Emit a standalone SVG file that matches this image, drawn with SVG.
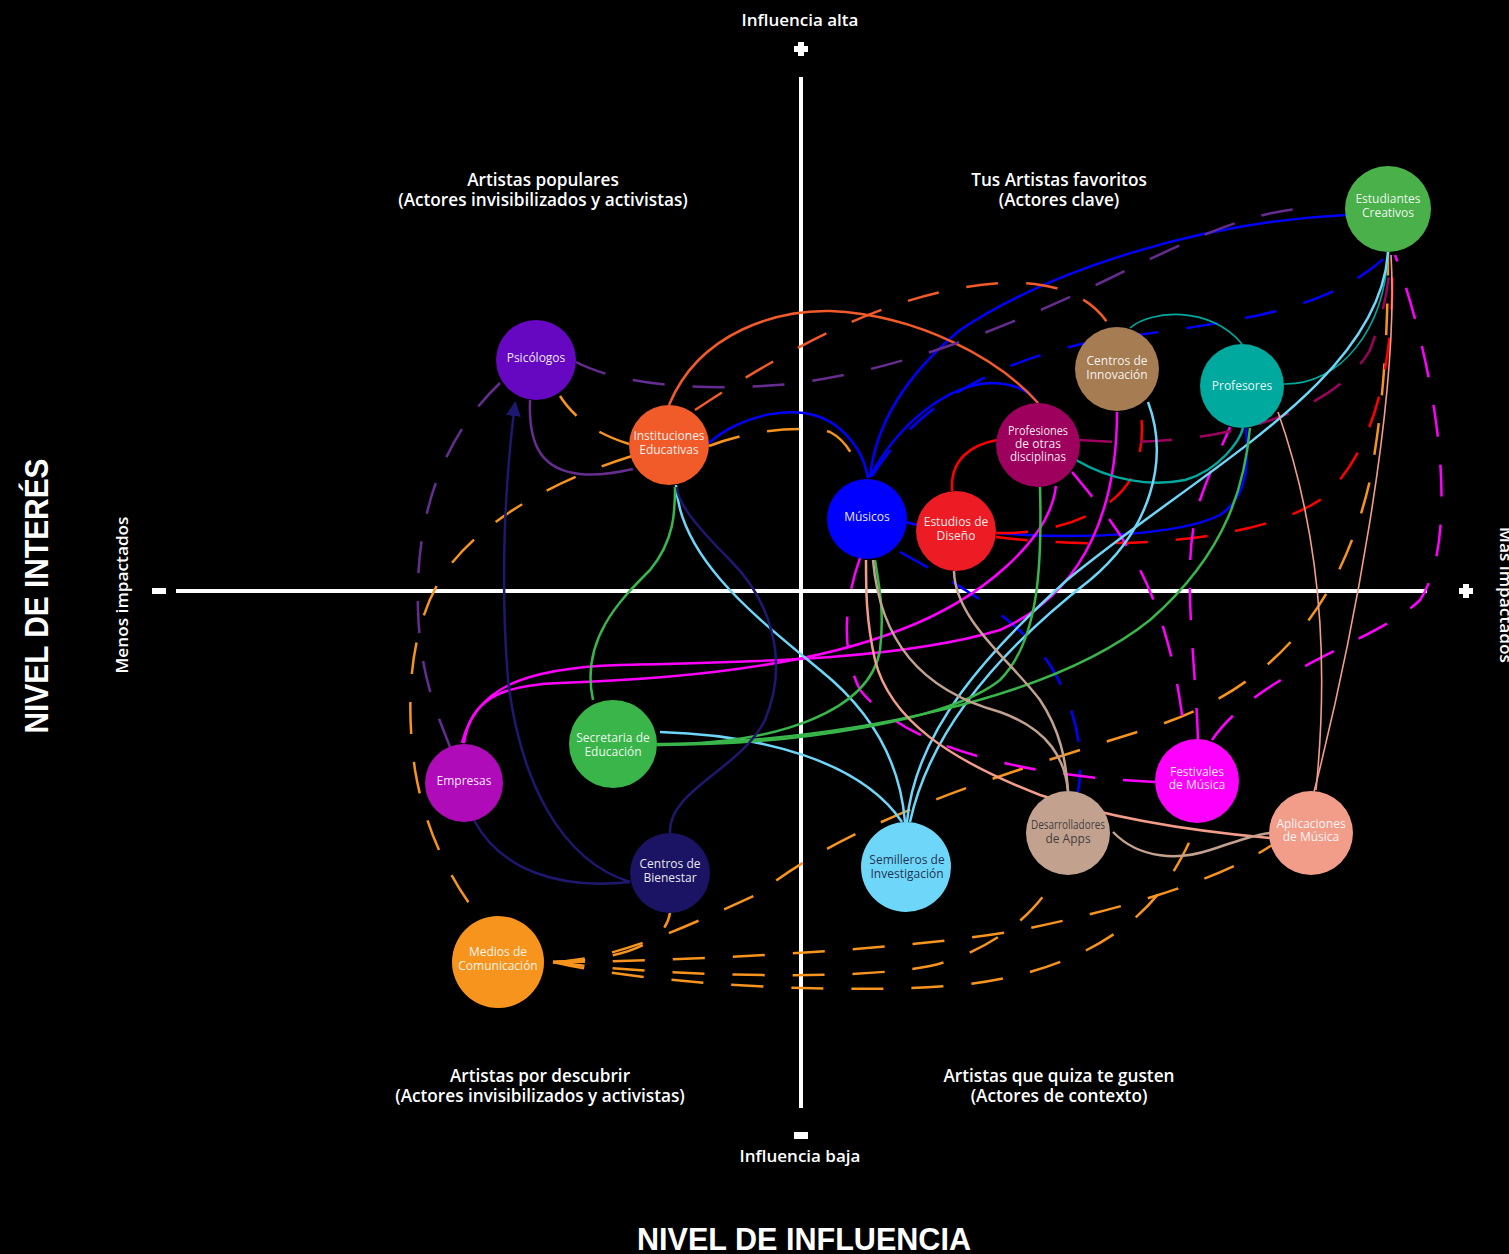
<svg xmlns="http://www.w3.org/2000/svg" width="1509" height="1254" viewBox="0 0 1509 1254">
<style>
.bg{fill:#000}
.ax{stroke:#fff;stroke-width:4;fill:none}
.mk{fill:#fff}
.h{font-family:"Open Sans","Noto Sans",sans-serif;font-weight:600;fill:#fff;text-anchor:middle}
.big{font-family:"Liberation Sans","Open Sans",sans-serif;font-weight:700;fill:#fff;text-anchor:middle}
.nl{font-family:"Open Sans","Noto Sans",sans-serif;font-size:12px;fill:#fff;fill-opacity:0.92;text-anchor:middle}
.c{fill:none;stroke-width:2.5}
.d{stroke-dasharray:32 28}
.thin{stroke-width:1.6}
.blue{stroke:#0000FF}
.oR{stroke:#F15A29}
.pur{stroke:#662D91}
.org{stroke:#F7941D}
.red{stroke:#FF0000}
.mag{stroke:#FF00FF}
.dmag{stroke:#9E005D}
.teal{stroke:#00A99D}
.lb{stroke:#6DD6F9}
.grn{stroke:#39B54A}
.navy{stroke:#1F1870}
.sal{stroke:#F29C8A}
.tan{stroke:#C2A18F}
</style>
<defs>
<marker id="arr" viewBox="0 0 10 10" refX="8" refY="5" markerWidth="6" markerHeight="6" orient="auto" markerUnits="strokeWidth">
<path d="M0,0 L10,5 L0,10 z" fill="#1F1870"/>
</marker>
</defs>
<rect class="bg" x="0" y="0" width="1509" height="1254"/>

<g id="axes">
<line class="ax" x1="801" y1="77" x2="801" y2="1108"/>
<line class="ax" x1="176" y1="591" x2="1427" y2="591"/>
<path class="mk" d="M798,42 h6 v4 h4 v6 h-4 v4 h-6 v-4 h-4 v-6 h4 z"/>
<path class="mk" d="M1463,584 h6 v4 h4 v6 h-4 v4 h-6 v-4 h-4 v-6 h4 z"/>
<rect class="mk" x="152" y="588" width="14" height="6"/>
<rect class="mk" x="794" y="1132" width="14" height="7"/>
</g>

<g id="labels">
<text class="h" x="800" y="26" font-size="17">Influencia alta</text>
<text class="h" x="800" y="1162" font-size="17">Influencia baja</text>
<text class="big" x="804" y="1250" font-size="32" textLength="334" lengthAdjust="spacingAndGlyphs">NIVEL DE INFLUENCIA</text>
<text class="big" transform="translate(48,596) rotate(-90)" font-size="34" textLength="275" lengthAdjust="spacingAndGlyphs">NIVEL DE INTERÉS</text>
<text class="h" transform="translate(128,595) rotate(-90)" font-size="16" font-weight="500" textLength="157" lengthAdjust="spacingAndGlyphs">Menos impactados</text>
<text class="h" transform="translate(1500,595) rotate(90)" font-size="16" font-weight="500" textLength="136" lengthAdjust="spacingAndGlyphs">Más impactados</text>
<text class="h" x="543" y="186" font-size="17.2">Artistas populares</text>
<text class="h" x="543" y="206" font-size="17.2">(Actores invisibilizados y activistas)</text>
<text class="h" x="1059" y="186" font-size="17.2">Tus Artistas favoritos</text>
<text class="h" x="1059" y="206" font-size="17.2">(Actores clave)</text>
<text class="h" x="540" y="1082" font-size="17.2">Artistas por descubrir</text>
<text class="h" x="540" y="1102" font-size="17.2">(Actores invisibilizados y activistas)</text>
<text class="h" x="1059" y="1082" font-size="17.2">Artistas que quiza te gusten</text>
<text class="h" x="1059" y="1102" font-size="17.2">(Actores de contexto)</text>
</g>

<g id="connectors">
<!-- blue -->
<path class="c blue" d="M1346,215 C1200,222 1050,270 960,330 C900,380 875,430 870,477"/>
<path class="c blue" d="M870,477 C900,420 950,385 990,383 C1015,383 1030,392 1038,403"/>
<path class="c blue" d="M709,443 C740,415 800,400 835,425 C855,440 865,460 868,478"/>
<path class="c blue d" d="M872,476 C920,400 1000,360 1100,340 C1250,320 1330,310 1390,253"/>
<path class="c blue" d="M997,533 C1080,540 1180,535 1220,515 C1250,495 1248,460 1246,428"/>
<path class="c blue d" d="M900,552 C960,585 1020,620 1050,665 C1075,705 1085,750 1078,792"/>
<path class="c blue" d="M906,522 L917,525"/>
<!-- orange-red -->
<path class="c oR" d="M669,405 C700,330 780,310 830,311 C920,315 1000,360 1038,403"/>
<path class="c oR d" d="M695,410 C800,340 900,290 1000,283 C1060,280 1095,300 1110,327"/>
<!-- purple -->
<path class="c pur d" d="M576,362 C620,385 700,392 790,384 C900,370 1000,330 1100,283 C1200,235 1250,210 1320,207"/>
<path class="c pur" d="M530,400 C528,450 545,470 580,474 C600,476 620,472 633,469"/>
<path class="c pur d" d="M500,383 C440,440 415,520 418,610 C420,680 440,720 450,747"/>
<!-- orange -->
<path class="c org d" d="M629,444 C600,435 575,420 560,396"/>
<path class="c org d" d="M632,456 C540,485 470,530 440,580 C410,630 405,700 415,770 C425,830 450,880 480,918"/>
<path class="c org d" d="M709,446 C750,430 800,425 830,432 C845,440 855,455 860,478"/>
<path class="c org d" d="M553,962 C620,960 665,945 670,913"/>
<path class="c org d" d="M553,962 C620,960 700,920 760,893 C850,820 1000,775 1150,728 C1270,690 1340,610 1370,480 C1385,400 1388,320 1388,252"/>
<path class="c org d" d="M553,962 C650,962 900,952 1020,930 C1120,910 1220,880 1272,845"/>
<path class="c org d" d="M553,962 C650,975 850,982 930,966 C980,955 1035,920 1056,875"/>
<path class="c org d" d="M553,962 C650,985 850,995 960,985 C1060,975 1130,935 1165,885 C1180,862 1192,840 1196,823"/>
<!-- red -->
<path class="c red d" d="M996,537 C1100,550 1250,545 1320,500 C1380,450 1395,350 1392,255"/>
<path class="c red d" d="M996,533 C1060,535 1120,510 1135,470 C1145,440 1142,420 1140,410"/>
<path class="c red" d="M952,491 C950,460 970,445 997,440"/>
<!-- magenta -->
<path class="c mag" d="M464,743 C470,700 500,685 560,683 C650,680 800,670 900,630 C980,600 1050,540 1056,486"/>
<path class="c mag" d="M462,743 C475,690 520,668 620,665 C750,662 900,660 1000,630 C1090,590 1117,500 1117,412"/>
<path class="c mag d" d="M1155,782 C1000,775 900,740 860,690 C840,650 845,600 860,558"/>
<path class="c mag d" d="M1072,472 C1120,530 1170,590 1185,740"/>
<path class="c mag d" d="M1198,740 C1195,650 1180,560 1200,500 C1212,465 1225,440 1230,427"/>
<path class="c mag d" d="M1212,740 C1260,670 1380,640 1420,600 C1460,540 1440,380 1395,255"/>
<!-- dark magenta -->
<path class="c dmag d" d="M1080,440 C1200,450 1330,420 1370,350 C1385,310 1390,280 1390,253"/>
<!-- teal -->
<path class="c teal thin" d="M1130,328 C1150,310 1210,305 1242,344"/>
<path class="c teal thin" d="M1284,384 C1340,385 1385,330 1388,252"/>
<path class="c teal" d="M1076,460 C1110,480 1150,487 1185,480 C1220,470 1240,440 1243,428"/>
<!-- light blue -->
<path class="c lb" d="M907,822 C915,730 990,650 1067,580 C1200,470 1380,380 1388,252"/>
<path class="c lb" d="M910,822 C930,730 1000,650 1090,580 C1150,530 1170,460 1148,402"/>
<path class="c lb" d="M676,485 C680,560 760,620 820,670 C870,710 900,760 905,822"/>
<path class="c lb" d="M660,732 C760,735 860,760 902,822"/>
<!-- green -->
<path class="c grn" d="M593,700 C580,640 620,600 650,570 C675,540 675,510 675,487"/>
<path class="c grn" d="M657,744 C780,745 870,710 880,650 C885,610 878,580 875,560"/>
<path class="c grn" d="M657,745 C800,745 950,720 1000,680 C1040,640 1042,560 1040,487"/>
<path class="c grn" d="M657,745 C850,740 1050,700 1150,620 C1230,550 1245,480 1250,428"/>
<!-- navy -->
<path class="c navy" d="M670,833 C668,790 740,770 765,720 C790,660 770,600 730,560 C690,520 677,500 677,487"/>
<path class="c navy" marker-end="url(#arr)" d="M630,882 C560,860 520,780 508,680 C500,580 505,480 515,404"/>
<path class="c navy" d="M474,820 C500,870 560,890 630,882"/>
<!-- salmon -->
<path class="c sal thin" d="M1314,792 C1350,650 1400,400 1391,255"/>
<path class="c sal thin" d="M1316,790 C1325,700 1330,560 1278,412"/>
<path class="c sal" d="M1270,838 C1180,830 1100,815 1040,795 C950,760 890,720 875,660 C866,620 866,590 866,560"/>
<!-- tan -->
<path class="c tan" d="M954,571 C955,620 1010,660 1040,700 C1060,730 1066,760 1068,791"/>
<path class="c tan" d="M873,560 C880,640 920,690 1000,712 C1050,730 1065,760 1068,791"/>
<path class="c tan" d="M1113,832 C1140,860 1180,860 1210,850 C1240,840 1255,835 1270,833"/>
</g>

<g id="node-estudiantes">
<circle cx="1388" cy="209" r="43" fill="#49B04A"/>
<text class="nl" x="1388" y="203">Estudiantes</text>
<text class="nl" x="1388" y="217">Creativos</text>
</g>
<g id="node-psicologos">
<circle cx="536" cy="360" r="40" fill="#6608C2"/>
<text class="nl" x="536" y="362">Psicólogos</text>
</g>
<g id="node-instituciones">
<circle cx="669" cy="445" r="40" fill="#F15A29"/>
<text class="nl" x="669" y="440">Instituciones</text>
<text class="nl" x="669" y="454">Educativas</text>
</g>
<g id="node-centros-innovacion">
<circle cx="1117" cy="369" r="42" fill="#A67C52"/>
<text class="nl" x="1117" y="365">Centros de</text>
<text class="nl" x="1117" y="379">Innovación</text>
</g>
<g id="node-profesores">
<circle cx="1242" cy="386" r="42" fill="#00A99D"/>
<text class="nl" x="1242" y="390">Profesores</text>
</g>
<g id="node-profesiones">
<circle cx="1038" cy="445" r="42" fill="#9E005D"/>
<text class="nl" x="1038" y="435" font-size="9.5" textLength="60" lengthAdjust="spacingAndGlyphs">Profesiones</text>
<text class="nl" x="1038" y="448" font-size="9.5">de otras</text>
<text class="nl" x="1038" y="461" font-size="9.5" textLength="56" lengthAdjust="spacingAndGlyphs">disciplinas</text>
</g>
<g id="node-musicos">
<circle cx="867" cy="519" r="40" fill="#0000FF"/>
<text class="nl" x="867" y="521">Músicos</text>
</g>
<g id="node-estudios">
<circle cx="956" cy="531" r="40" fill="#ED1C24"/>
<text class="nl" x="956" y="526">Estudios de</text>
<text class="nl" x="956" y="540">Diseño</text>
</g>
<g id="node-secretaria">
<circle cx="613" cy="744" r="44" fill="#39B54A"/>
<text class="nl" x="613" y="742">Secretaria de</text>
<text class="nl" x="613" y="756">Educación</text>
</g>
<g id="node-empresas">
<circle cx="464" cy="783" r="39" fill="#B00BB8"/>
<text class="nl" x="464" y="785">Empresas</text>
</g>
<g id="node-bienestar">
<circle cx="670" cy="873" r="40" fill="#1B1464"/>
<text class="nl" x="670" y="868">Centros de</text>
<text class="nl" x="670" y="882">Bienestar</text>
</g>
<g id="node-medios">
<circle cx="498" cy="962" r="46" fill="#F7941D"/>
<text class="nl" x="498" y="956">Medios de</text>
<text class="nl" x="498" y="970">Comunicación</text>
</g>
<g id="node-semilleros">
<circle cx="906" cy="867" r="45" fill="#6DD6F9"/>
<text class="nl" x="907" y="864" style="fill:#1B2040">Semilleros de</text>
<text class="nl" x="907" y="878" style="fill:#1B2040">Investigación</text>
</g>
<g id="node-desarrolladores">
<circle cx="1068" cy="833" r="42" fill="#C2A18F"/>
<text class="nl" x="1068" y="829" font-size="9" textLength="74" lengthAdjust="spacingAndGlyphs" style="fill:#333">Desarrolladores</text>
<text class="nl" x="1068" y="843" font-size="9" style="fill:#333">de Apps</text>
</g>
<g id="node-festivales">
<circle cx="1197" cy="781" r="42" fill="#FF00FF"/>
<text class="nl" x="1197" y="776">Festivales</text>
<text class="nl" x="1197" y="789">de Música</text>
</g>
<g id="node-aplicaciones">
<circle cx="1311" cy="833" r="42" fill="#F29C8A"/>
<text class="nl" x="1311" y="828">Aplicaciones</text>
<text class="nl" x="1311" y="841">de Música</text>
</g>
</svg>
